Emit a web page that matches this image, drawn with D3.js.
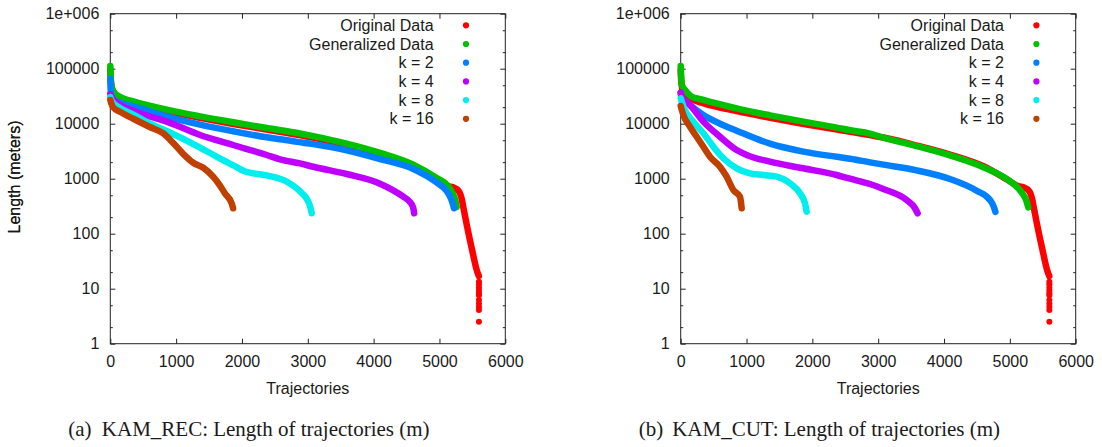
<!DOCTYPE html>
<html><head><meta charset="utf-8">
<script src="https://cdn.jsdelivr.net/npm/d3@7"></script>
<style>
body{margin:0;background:#fff}
svg text{font-family:"Liberation Sans",Arial,Helvetica,sans-serif;fill:#1a1a1a}
</style>
</head><body>
<svg id="chart" width="1102" height="447"></svg>
<script>
// ---------- data ----------
const seriesNames = ["Original Data","Generalized Data","k = 2","k = 4","k = 8","k = 16"];
const seriesColors = ["#ff0000","#00c000","#0080ff","#c000ff","#00eeee","#c04000"];
const xTicks = [0,1000,2000,3000,4000,5000,6000];
const xTickLabels = ["0","1000","2000","3000","4000","5000","6000"];
const yTicks = [1,10,100,1000,10000,100000,1000000];
const yTickLabels = ["1","10","100","1000","10000","100000","1e+006"];
const yMinorTicks = [2,5,20,50,200,500,2000,5000,20000,50000,200000,500000];
const xTitle = "Trajectories";
const yTitle = "Length (meters)";

// Original data (same set in both panels)
const originalData = [[0,95000],[8,60000],[40,37000],[150,28500],[350,23500],[850,17000],[1360,12800],[1870,9900],[2375,7800],[2880,6200],[3080,5600],[3590,4000],[4090,2750],[4600,1680],[4950,980],[5130,730],[5210,700],[5300,580],[5340,420],[5370,270],[5420,134],[5495,51],[5565,22],[5598,17]];
const originalTailX = 5600;
const originalTail = [13.4,12,10.5,9.3,8.3,7.6,6.2,5.4,4.7,4.1,2.5];

// KAM_REC
const recGeneralized = [[0,112000],[4,85000],[12,55000],[46,39000],[150,30500],[350,25500],[857,18000],[1363,13600],[1868,10600],[2375,8350],[2881,6650],[3084,5950],[3590,4350],[4097,2950],[4603,1800],[4957,1030],[5134,730],[5200,540],[5240,410],[5261,306]];
const recK2 = [[0,65000],[4,45000],[15,33000],[46,28000],[150,24000],[350,20700],[857,13600],[1363,9600],[1868,7280],[2375,5660],[2578,5200],[3084,4250],[3590,3280],[4097,2280],[4603,1500],[4957,853],[5109,597],[5180,420],[5221,290]];
const recK4 = [[0,34700],[20,30000],[101,24000],[350,17200],[600,13500],[857,10900],[1363,6240],[1868,4100],[2375,2700],[2578,2250],[2881,1900],[3084,1650],[3590,1217],[4097,811],[4451,470],[4550,380],[4600,300],[4615,235]];
const recK8 = [[0,30500],[20,26000],[101,21000],[350,14700],[604,10000],[857,7360],[1363,3690],[1620,2500],[1870,1750],[2050,1350],[2375,1150],[2690,870],[2900,560],[3000,400],[3040,300],[3059,235]];
const recK16 = [[0,27000],[40,20000],[147,16500],[350,12300],[600,8700],[806,6650],[960,4400],[1110,2800],[1260,1950],[1413,1580],[1565,1080],[1666,750],[1742,540],[1843,357],[1865,290]];

// KAM_CUT
const cutGeneralized = [[0,112000],[5,80000],[20,50000],[65,41000],[150,32000],[344,27000],[850,19000],[1357,14200],[1863,10900],[2369,8500],[2572,7600],[2876,6600],[3078,5600],[3584,3900],[4090,2650],[4597,1620],[4951,990],[5128,670],[5200,520],[5250,400],[5280,300]];
const cutK2 = [[0,36000],[10,30000],[91,24500],[344,14400],[597,10000],[850,7460],[1357,4330],[1863,3100],[2369,2500],[2572,2300],[2876,1980],[3078,1800],[3584,1420],[4090,988],[4496,605],[4698,410],[4760,300],[4780,250]];
const cutK4 = [[0,37200],[20,30000],[141,21900],[344,10900],[597,5800],[850,3320],[1002,2700],[1357,2040],[1863,1545],[2369,1167],[2572,1000],[2876,800],[3078,650],[3432,410],[3559,290],[3599,235]];
const cutK8 = [[0,29000],[40,20400],[192,10900],[344,6690],[496,3820],[648,2350],[850,1545],[1053,1253],[1255,1167],[1458,1087],[1660,825],[1812,543],[1888,357],[1913,251]];
const cutK16 = [[0,21000],[40,14400],[141,8810],[243,5800],[344,3820],[445,2510],[597,1650],[698,1087],[800,623],[901,471],[926,290]];

const panelTags = ["(a)","(b)"];
const panelCaptions = ["KAM_REC: Length of trajectories (m)","KAM_CUT: Length of trajectories (m)"];

// ---------- drawing ----------
const svg = d3.select("#chart");
const W = 395, H = 330;
const x = d3.scaleLinear().domain([0,6000]).range([0,W]);
const y = d3.scaleLog().domain([1,1e6]).range([H,0]);
const line = d3.line().x(d=>x(d[0])).y(d=>y(d[1])).curve(d3.curveMonotoneX);

function panel(ox, oy, series, tag, caption){
  const g = svg.append("g").attr("transform",`translate(${ox},${oy})`);
  const clean = sel => { sel.select(".domain").remove(); sel.selectAll("line").attr("stroke","#222"); sel.selectAll("text").attr("font-size",16).attr("fill","#1a1a1a").attr("font-family","Liberation Sans, Arial, sans-serif"); };

  g.append("g").call(d3.axisLeft(y).tickValues(yTicks).tickFormat((d,i)=>yTickLabels[i]).tickSizeInner(-5).tickSizeOuter(0).tickPadding(11)).call(clean);
  g.append("g").call(d3.axisLeft(y).tickValues(yMinorTicks).tickFormat("").tickSizeInner(-2.5).tickSizeOuter(0)).call(clean);
  g.append("g").attr("transform",`translate(${W},0)`).call(d3.axisRight(y).tickValues(yTicks).tickFormat("").tickSizeInner(-5).tickSizeOuter(0)).call(clean);
  g.append("g").attr("transform",`translate(${W},0)`).call(d3.axisRight(y).tickValues(yMinorTicks).tickFormat("").tickSizeInner(-2.5).tickSizeOuter(0)).call(clean);
  g.append("g").attr("transform",`translate(0,${H})`).call(d3.axisBottom(x).tickValues(xTicks).tickFormat((d,i)=>xTickLabels[i]).tickSizeInner(-5).tickSizeOuter(0).tickPadding(12)).call(clean);
  g.append("g").call(d3.axisTop(x).tickValues(xTicks).tickFormat("").tickSizeInner(-5).tickSizeOuter(0)).call(clean);

  g.append("rect").attr("x",0).attr("y",0).attr("width",W).attr("height",H)
    .attr("fill","none").attr("stroke","#222").attr("stroke-width",1);

  series.forEach((s,i)=>{
    g.append("path").datum(s).attr("d",line).attr("fill","none")
      .attr("stroke",seriesColors[i]).attr("stroke-width",6.5)
      .attr("stroke-linecap","round").attr("stroke-linejoin","round");
    if(i===0){
      g.selectAll(null).data(originalTail).join("circle")
        .attr("cx",x(originalTailX)).attr("cy",d=>y(d)).attr("r",3).attr("fill",seriesColors[0]);
    }
  });

  const lg = g.append("g");
  seriesNames.forEach((n,i)=>{
    const yy = 11.6 + i*18.7;
    lg.append("text").attr("x",323.3).attr("y",yy).attr("dy","0.35em").attr("text-anchor","end")
      .attr("font-size",16).text(n);
    lg.append("circle").attr("cx",355.7).attr("cy",yy).attr("r",3.1).attr("fill",seriesColors[i]);
  });

  g.append("text").attr("x",W/2).attr("y",380.8).attr("text-anchor","middle").attr("font-size",16).text(xTitle);
  g.append("text").attr("transform",`translate(${20-ox},${177-oy}) rotate(-90)`).attr("text-anchor","middle")
    .attr("font-size",16).text(yTitle);

  svg.append("text").attr("x",ox-42).attr("y",436).attr("font-size",21)
    .style("font-family","'Liberation Serif','Times New Roman',serif").text(tag);
  svg.append("text").attr("x",ox-8.5).attr("y",436).attr("font-size",21)
    .style("font-family","'Liberation Serif','Times New Roman',serif").text(caption);
}

panel(110.3, 13.7, [originalData, recGeneralized, recK2, recK4, recK8, recK16], panelTags[0], panelCaptions[0]);
panel(680.7, 13.7, [originalData, cutGeneralized, cutK2, cutK4, cutK8, cutK16], panelTags[1], panelCaptions[1]);
</script>
</body></html>
